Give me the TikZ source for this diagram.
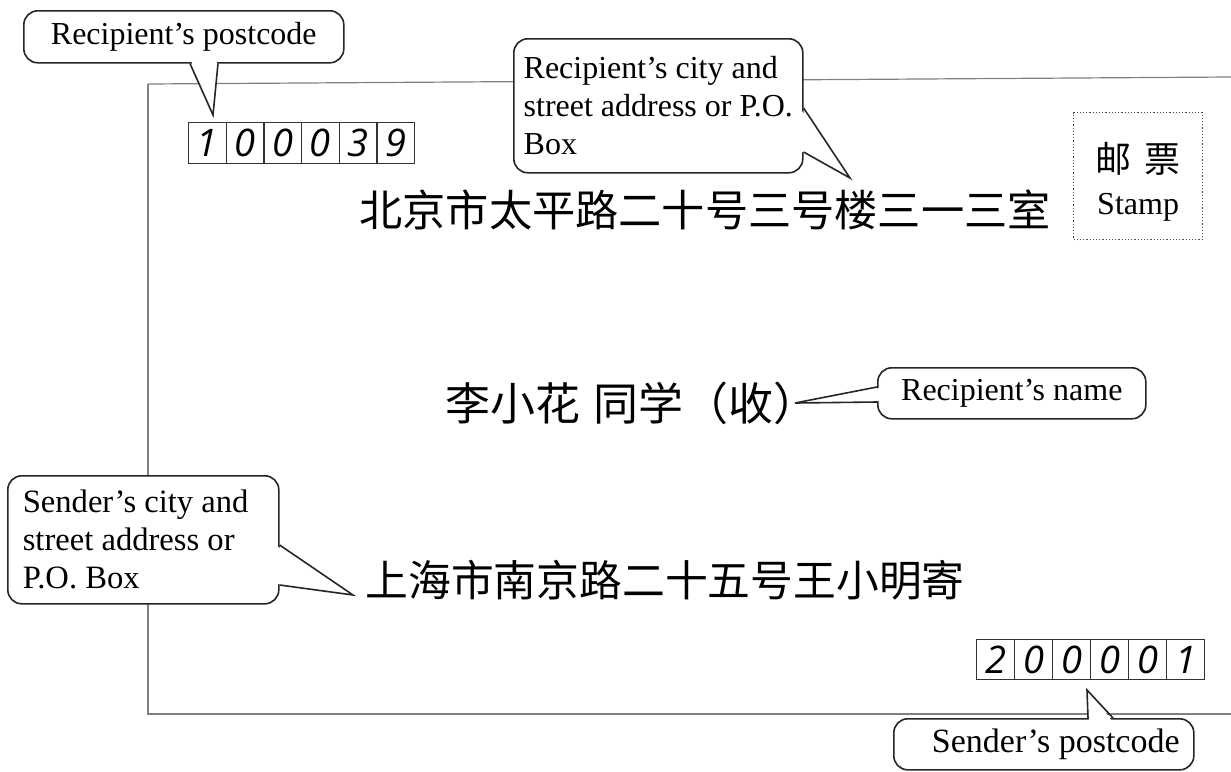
\documentclass[tikz,border=0pt]{standalone}
\usepackage{fontspec}
\setmainfont{Liberation Serif}
\newfontfamily\cjk{Noto Sans CJK SC}
\newfontfamily\digitfont{Open Sans}
\usetikzlibrary{calc}
\tikzset{
  env/.style={draw=black!50, line width=0.6pt},
  callout/.style={draw=black!85, line width=0.8pt, fill=white, rounded corners=7pt,
    inner sep=0pt, anchor=north west, align=left, font=\fontsize{16}{19}\selectfont},
  ptr/.style={draw=black!85, line width=0.8pt, line join=miter},
  ptrfill/.style={fill=white},
  cell/.style={draw=black!80, line width=0.6pt, inner sep=0pt, anchor=north west,
    font=\digitfont\itshape\fontsize{19}{19}\selectfont},
  hand/.style={font=\cjk\fontsize{21.6}{26}\selectfont, inner sep=0pt},
  stampbox/.style={draw=black!70, line width=0.6pt, densely dotted, inner sep=0pt,
    anchor=north west, align=center, minimum width=64.5pt, minimum height=63.5pt,
    font=\fontsize{16}{21}\selectfont},
}
\begin{document}
\begin{tikzpicture}[x=0.5pt,y=-0.5pt]
\useasboundingbox (0,0) rectangle (1231,771);
\fill[white] (0,0) rectangle (1231,771);

% envelope
\coordinate (eTL) at (148,84);
\coordinate (eTR) at (1231,77);
\coordinate (eBL) at (148,714);
\coordinate (eBR) at (1231,714);
\draw[env] (eTL) -- (eTR);
\draw[env] (eTL) -- (eBL) -- (eBR);

% postcode cells
\foreach \d [count=\i] in {1,0,0,0,3,9}
  \node[cell, minimum width=18.83pt, minimum height=20.5pt] (r\i) at ({188+(\i-1)*37.67},122) {\d};
\foreach \d [count=\i] in {2,0,0,0,0,1}
  \node[cell, minimum width=19pt, minimum height=20pt] (s\i) at ({976+(\i-1)*38},639) {\d};

% stamp
\node[stampbox] (stamp) at (1073,112) {\rule{0pt}{21pt}{\cjk\fontsize{18}{21}\selectfont 邮\hspace{0.35em}票}\\Stamp};

% handwritten lines
\node[hand] (addr1) at (705,210) {北京市太平路二十号三号楼三一三室};
\node[hand, font=\cjk\fontsize{22.5}{26}\selectfont] (name) at (632,403) {李小花\hspace{0.3em}同学（收）};
\node[hand, font=\cjk\fontsize{21.4}{26}\selectfont] (addr3) at (665,580) {上海市南京路二十五号王小明寄};

% callout 1: recipient's postcode
\node[callout, minimum width=160pt, minimum height=26pt, align=center] (cRP) at (23,10) {Recipient’s postcode};
\coordinate (tRP) at (213,115);
\fill[ptrfill] ($(cRP.south west)+(168,-3)$) -- (tRP) -- ($(cRP.south west)+(194,-3)$) -- cycle;
\draw[ptr] ($(cRP.south west)+(167,0)$) -- (tRP) -- ($(cRP.south west)+(195,0)$);

% callout 2: recipient's city
\node[callout, minimum width=144.5pt, minimum height=67pt] (cCity) at (513,38) {Recipient’s city and\\street address or P.O.\\Box};
\coordinate (tCity) at (850,178);
\fill[ptrfill] ($(cCity.north east)+(-3,71)$) -- (tCity) -- ($(cCity.north east)+(-3,113)$) -- cycle;
\draw[ptr] ($(cCity.north east)+(0,70)$) -- (tCity) -- ($(cCity.north east)+(0,114)$);

% callout 3: recipient's name
\node[callout, minimum width=134pt, minimum height=25.5pt, align=center] (cName) at (877,367) {Recipient’s name};
\coordinate (tName) at (795,403);
\fill[ptrfill] ($(cName.north west)+(3,21)$) -- (tName) -- ($(cName.north west)+(3,34)$) -- cycle;
\draw[ptr] ($(cName.north west)+(0,20)$) -- (tName) -- ($(cName.north west)+(0,35)$);

% callout 4: sender's city
\node[callout, minimum height=64pt, text width=120.5pt, inner xsep=7.5pt, align=flush left, font=\fontsize{16.3}{19}\selectfont] (cSnd) at (7,475) {Sender’s city and\\street address or\\P.O. Box};
\coordinate (tSnd) at (353,595);
\fill[ptrfill] ($(cSnd.north east)+(-3,71)$) -- (tSnd) -- ($(cSnd.north east)+(-3,109)$) -- cycle;
\draw[ptr] ($(cSnd.north east)+(0,70)$) -- (tSnd) -- ($(cSnd.north east)+(0,110)$);

% callout 5: sender's postcode
\node[callout, minimum width=150pt, minimum height=25.5pt, align=center, font=\fontsize{17}{19}\selectfont] (cSP) at (893,718) {\hspace{12pt}Sender’s postcode};
\coordinate (tSP) at (1087,690);
\fill[ptrfill] ($(cSP.north west)+(196,3)$) -- (tSP) -- ($(cSP.north west)+(219,3)$) -- cycle;
\draw[ptr] ($(cSP.north west)+(195,0)$) -- (tSP) -- ($(cSP.north west)+(220,0)$);
\end{tikzpicture}
\end{document}
